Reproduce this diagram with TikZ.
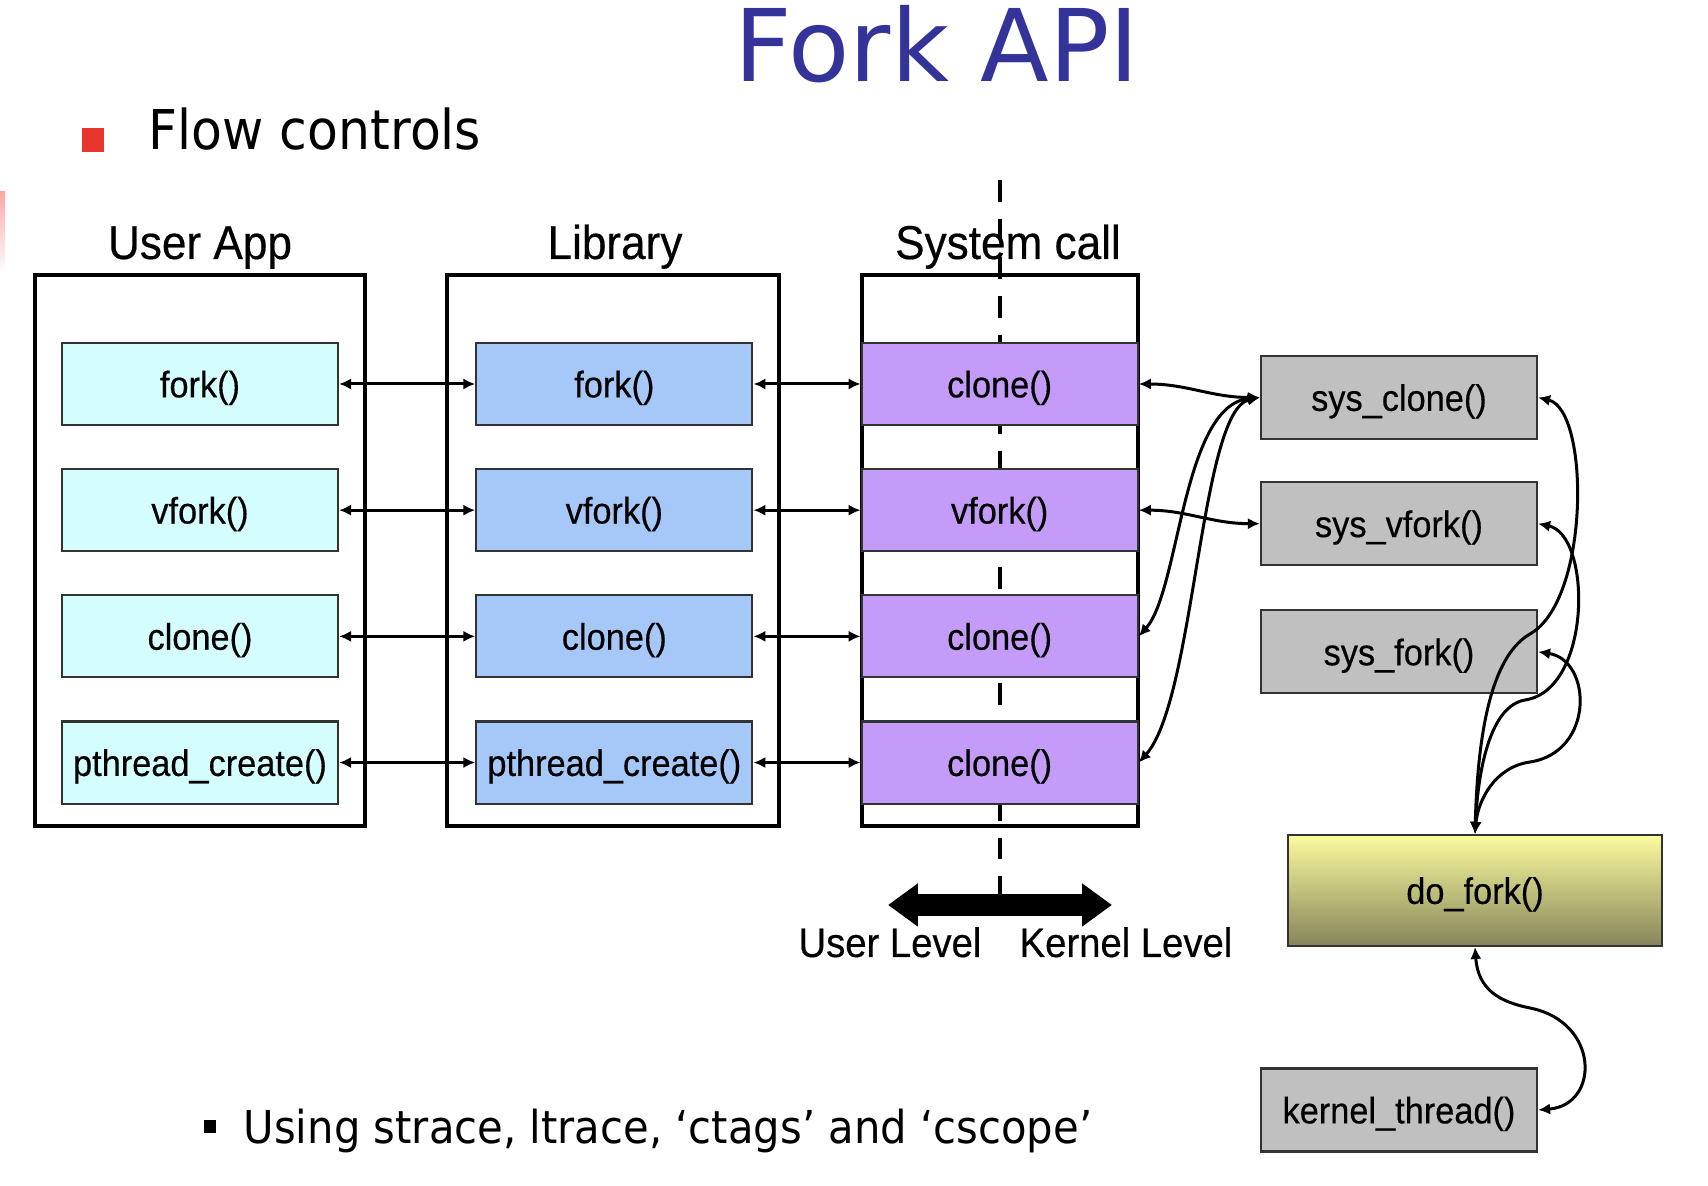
\documentclass[tikz,border=0pt]{standalone}
\usepackage{fontspec}
\setmainfont{Liberation Sans}
\newfontfamily\diagfont[FakeStretch=0.93, FakeBold=0.4]{Liberation Sans}
\newfontfamily\slidefont[FakeStretch=0.92]{DejaVu Sans}
\newfontfamily\titlefont{DejaVu Sans}
\usepackage{xcolor}
\usetikzlibrary{positioning, arrows.meta}

\definecolor{appcyan}{HTML}{D4FEFE}
\definecolor{libblue}{HTML}{A6C8F8}
\definecolor{sysviolet}{HTML}{C49BF8}
\definecolor{kgray}{HTML}{C0C0C0}
\definecolor{edgegray}{HTML}{333333}
\definecolor{titleblue}{HTML}{333399}
\definecolor{bulletred}{HTML}{E8352B}
\definecolor{dfyellow}{HTML}{FBFB9F}
\definecolor{dfolive}{HTML}{85855A}

\begin{document}
\begin{tikzpicture}[
    x=0.01cm, y=-0.01cm, % one unit = one pixel of the slide
    frame/.style={draw, line width=1.2pt, minimum height=5.51cm, inner sep=0pt},
    head/.style={font=\diagfont\fontsize{13.5pt}{16pt}\selectfont, anchor=base, inner sep=0pt},
    call/.style={draw=edgegray, line width=0.6pt, minimum width=2.76cm, minimum height=0.82cm, inner sep=0pt, text depth=0pt, font=\diagfont\fontsize{10.5pt}{12pt}\selectfont},
    kcall/.style={call, fill=kgray, minimum height=0.83cm},
    core/.style={call, top color=dfyellow, bottom color=dfolive, minimum width=3.74cm, minimum height=1.11cm},
    link/.style={<->, line width=0.85pt, >={Latex[length=3.4pt, width=3.2pt]}},
    divider/.style={line width=1.2pt, dash pattern=on 6.2pt off 4.8pt},
    bigarrow/.style={line width=6.3pt, {Triangle[length=8.5pt, width=11.7pt]}-{Triangle[length=8.5pt, width=11.7pt]}},
    level/.style={font=\diagfont\fontsize{11.7pt}{14pt}\selectfont, anchor=base, inner sep=0pt},
    slide/.style={font=\slidefont\fontsize{15.6pt}{18pt}\selectfont, anchor=base west, inner sep=0pt},
    node distance=0.42cm
]
\useasboundingbox (0,0) rectangle (1708,1186);

% slide decoration
\shade[top color=red!35, bottom color=white] (0,192) rectangle (5,273);

% title and bullet
\node[font=\titlefont\fontsize{28.5pt}{34pt}\selectfont, text=titleblue, anchor=base, inner sep=0pt] (title) at (937,82) {Fork API};
\node[fill=bulletred, minimum width=0.22cm, minimum height=0.24cm, inner sep=0pt] (redbullet) at (93,140) {};
\node[slide] (flow) at (148,150) {Flow controls};

% column frames
\node[frame, minimum width=3.3cm] (appframe) at (200,550.5) {};
\node[frame, minimum width=3.32cm] (libframe) at (613,550.5) {};
\node[frame, minimum width=2.76cm] (sysframe) at (1000,550.5) {};
\node[head] (apphead) at (200,259) {User App};
\node[head] (libhead) at (615,259) {Library};
\node[head] (syshead) at (1008,259) {System call};

% user / kernel divider
\coordinate (divtop) at (1000,180);
\coordinate (divbot) at (1000,905);
\draw[divider] (divtop) -- (divbot);

% user app calls
\node[call, fill=appcyan] (ufork) at (200,384) {fork()};
\node[call, fill=appcyan, below=of ufork] (uvfork) {vfork()};
\node[call, fill=appcyan, below=of uvfork] (uclone) {clone()};
\node[call, fill=appcyan, below=of uclone] (upthread) {pthread\_create()};

% library calls
\node[call, fill=libblue, right=1.36cm of ufork] (lfork) {fork()};
\node[call, fill=libblue, right=1.36cm of uvfork] (lvfork) {vfork()};
\node[call, fill=libblue, right=1.36cm of uclone] (lclone) {clone()};
\node[call, fill=libblue, right=1.36cm of upthread] (lpthread) {pthread\_create()};

% system calls
\node[call, fill=sysviolet, right=1.07cm of lfork] (sfork) {clone()};
\node[call, fill=sysviolet, right=1.07cm of lvfork] (svfork) {vfork()};
\node[call, fill=sysviolet, right=1.07cm of lclone] (sclone) {clone()};
\node[call, fill=sysviolet, right=1.07cm of lpthread] (spthread) {clone()};

% row arrows
\draw[link] (ufork.east) -- (lfork.west);
\draw[link] (uvfork.east) -- (lvfork.west);
\draw[link] (uclone.east) -- (lclone.west);
\draw[link] (upthread.east) -- (lpthread.west);
\draw[link] (lfork.east) -- (sfork.west);
\draw[link] (lvfork.east) -- (svfork.west);
\draw[link] (lclone.east) -- (sclone.west);
\draw[link] (lpthread.east) -- (spthread.west);

% kernel side
\node[kcall] (sysclone) at (1399,397.5) {sys\_clone()};
\node[kcall, below=0.41cm of sysclone] (sysvfork) {sys\_vfork()};
\node[kcall, below=0.43cm of sysvfork] (sysfork) {sys\_fork()};
\node[core] (dofork) at (1475,890.5) {do\_fork()};
\node[kcall] (kthread) at (1399,1110) {kernel\_thread()};

% entry curves
\draw[link] (sfork.east) to[out=0, in=180] (sysclone.west);
\draw[link] (svfork.east) to[out=0, in=180] (sysvfork.west);
\draw[link] (sysclone.west) .. controls (1182,405) and (1180,590) .. (sclone.east);
\draw[link] (sysclone.west) .. controls (1200,410) and (1195,700) .. (spthread.east);

% into do_fork
\draw[link] (sysclone.east) .. controls (1590,410) and (1590,600) .. (1530,634) .. controls (1495,654) and (1478,720) .. (dofork.north);
\draw[link] (sysvfork.east) .. controls (1592,535) and (1592,690) .. (1525,700) .. controls (1490,706) and (1478,770) .. (dofork.north);
\draw[link] (sysfork.east) .. controls (1592,660) and (1595,752) .. (1530,762) .. controls (1495,767) and (1478,800) .. (dofork.north);
\draw[link] (dofork.south) .. controls (1478,990) and (1500,1002) .. (1530,1008) .. controls (1600,1022) and (1600,1105) .. (kthread.east);

% level arrow
\coordinate (userend) at (888,905);
\coordinate (kernelend) at (1112,905);
\draw[bigarrow] (userend) -- (kernelend);
\node[level] (userlevel) at (890,957) {User Level};
\node[level] (kernellevel) at (1126,957) {Kernel Level};

% tools bullet
\node[fill=black, minimum width=0.12cm, minimum height=0.13cm, inner sep=0pt] (blackbullet) at (210,1126.5) {};
\node[slide, font=\slidefont\fontsize{12.9pt}{15pt}\selectfont] (tools) at (243,1144) {Using strace, ltrace, ‘ctags’ and ‘cscope’};
\end{tikzpicture}
\end{document}
